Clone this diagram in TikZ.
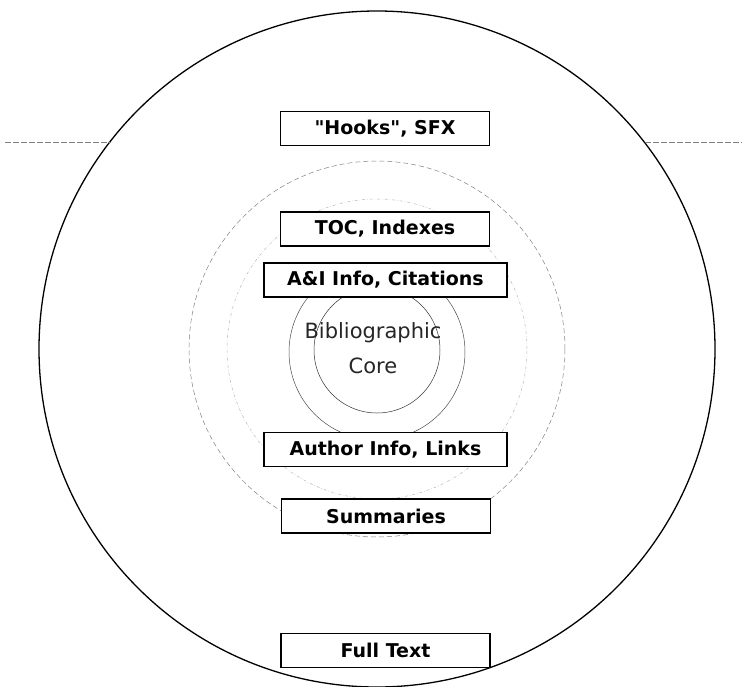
\documentclass[tikz,border=0pt]{standalone}
\usepackage{fontspec}
\newfontfamily\genevafont{DejaVu Sans}

\begin{document}
\begin{tikzpicture}[x=1pt,y=-1pt,
                    layer/.style={draw,fill=white,line width=1.2pt,minimum width=209pt,
                                  minimum height=34pt,inner sep=0pt,
                                  font=\genevafont\bfseries\fontsize{19}{22}\selectfont},
                    wide/.style={minimum width=243pt},
                    ring/.style={line width=0.5pt}]
	\useasboundingbox (0,0) rectangle (742,686);
	\coordinate (c) at (377,349);
	% rings, outside in
	\draw[line width=1.3pt]                          (c) circle[radius=338pt];
	\draw[ring,gray,dash pattern=on 5pt off 3pt]     (c) circle[radius=188pt];
	\draw[ring,gray!55,dash dot]                     (c) circle[radius=150pt];
	\draw[ring,black!70]                  (377,352) circle[radius=88pt];
	\draw[ring,black!80]                  (377,350) circle[radius=63pt];
	% the cut through the outer ring
	\coordinate (lend) at (5,142);
	\coordinate (lcut) at (111,142);
	\coordinate (rcut) at (645,142);
	\coordinate (rend) at (742,142);
	\draw[gray,thin,dash pattern=on 6pt off 2pt] (lend) -- (lcut);
	\draw[gray,thin,dash pattern=on 6pt off 2pt] (rcut) -- (rend);

	\node[layer]		(hooks)	at (385,128.5)	{"Hooks", SFX};
	\node[layer]		(toc)	at (385,229)	{TOC, Indexes};
	\node[layer,wide]	(ai)	at (385.5,280)	{A\&I Info, Citations};
	\node[layer,wide]	(author)	at (385.5,449.5)	{Author Info, Links};
	\node[layer]		(summ)	at (386,516)	{Summaries};
	\node[layer]		(full)	at (385.5,650.5)	{Full Text};
	\node[align=center,text=black!85,font=\genevafont\fontsize{21}{35}\selectfont]
		(core) at (373,348) {Bibliographic\\Core};
\end{tikzpicture}
\end{document}
